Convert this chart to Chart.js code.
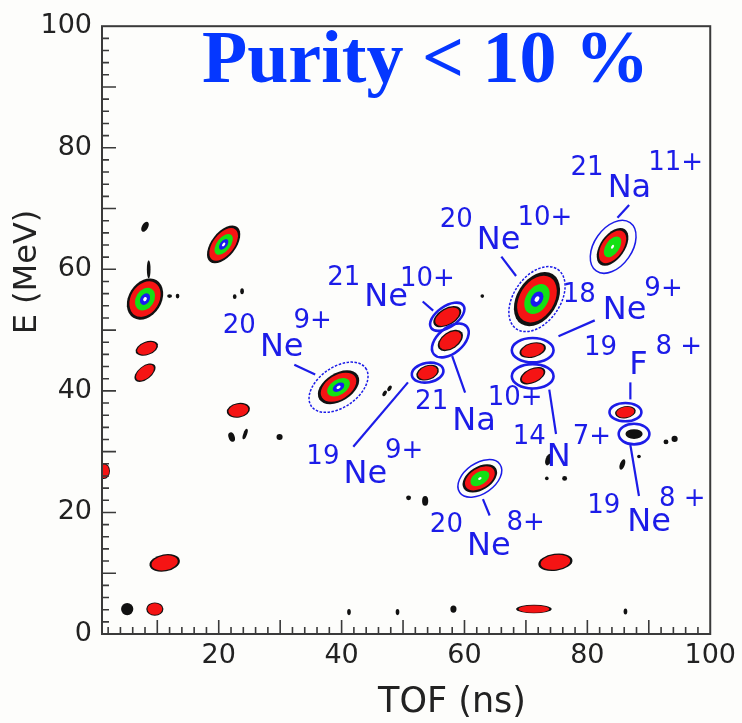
<!DOCTYPE html>
<html>
<head>
<meta charset="utf-8">
<script src="https://cdn.jsdelivr.net/npm/chart.js@4.4.1/dist/chart.umd.min.js"></script>
<style>
  html, body { margin: 0; padding: 0; background: #fdfdfb; }
  canvas { display: block; }
</style>
</head>
<body>
<canvas id="pid" width="742" height="723"></canvas>
<script>
const xTicks = [20, 40, 60, 80, 100];
const yTicks = [0, 20, 40, 60, 80, 100];

// contour blobs: centre (TOF ns, E MeV), half spread (ns, MeV), tilt (deg), contour levels reached
const blobTof = [8.0, 20.8, 8.3, 8.0, 23.2, 39.5, 57.2, 57.7, 54.0, 71.8, 84.1, 71.1, 71.1, 86.2, 87.6, 62.5, 74.8, 71.3, 11.2, 9.6, 5.1, 1.3, 53.6,
  50.9, 22.1, 24.3, 29.9, 8.0, 8.6, 73.7, 73.4, 76.3, 92.8, 94.2, 85.7, 88.4, 41.2, 49.1, 58.2, 86.2, 62.9, 12.0, 13.3, 22.6, 23.8, 47.0, 47.8];
const blobE = [55.1, 64.1, 47.0, 43.0, 36.8, 40.6, 52.2, 48.3, 43.0, 55.1, 63.7, 46.7, 42.5, 36.5, 32.9, 25.6, 11.8, 4.1, 11.7, 4.1, 4.1, 26.8, 21.9,
  22.4, 32.4, 32.9, 32.4, 67.0, 60.0, 28.7, 25.6, 25.6, 31.6, 32.1, 27.9, 29.2, 3.6, 3.6, 4.1, 3.7, 55.6, 55.6, 55.6, 55.5, 56.4, 39.6, 40.4];
const blobSpreadT = [3.6, 3.6, 1.9, 2.0, 1.9, 3.7, 2.5, 2.3, 1.9, 4.8, 3.5, 2.2, 2.2, 1.7, 1.4, 3.1, 2.8, 2.9, 2.5, 1.4, 1.0, 1.0, 0.5,
  0.4, 0.5, 0.3, 0.5, 0.5, 0.3, 0.5, 0.3, 0.4, 0.4, 0.5, 0.4, 0.3, 0.3, 0.3, 0.5, 0.3, 0.3, 0.4, 0.3, 0.3, 0.3, 0.3, 0.3];
const blobSpreadE = [2.7, 2.0, 1.1, 1.1, 1.2, 2.3, 1.4, 1.4, 1.2, 3.3, 2.0, 1.2, 1.2, 1.0, 0.8, 1.9, 1.4, 0.7, 1.4, 1.1, 1.0, 1.3, 0.8,
  0.4, 0.8, 0.9, 0.5, 0.9, 1.5, 1.0, 0.3, 0.4, 0.4, 0.5, 0.9, 0.3, 0.5, 0.5, 0.6, 0.5, 0.3, 0.3, 0.4, 0.4, 0.5, 0.5, 0.5];
const blobTilt = [-58, -52, -20, -38, -10, -32, -30, -35, -20, -58, -55, -15, -25, -10, 0, -32, -8, 0, -10, 0, 0, 0, 0,
  0, -20, 20, 0, 30, 0, 20, 0, 0, 0, 0, 20, 0, 0, 0, 0, 0, 0, 0, 0, 0, 0, 30, 30];
const blobLevels = [4, 4, 2, 2, 2, 4, 2, 2, 2, 4, 3, 2, 2, 2, 1, 3, 2, 2, 2, 2, 1, 2, 1,
  1, 1, 1, 1, 1, 1, 1, 1, 1, 1, 1, 1, 1, 1, 1, 1, 1, 1, 1, 1, 1, 1, 1, 1];

// ion identification: label anchor (TOF, E), ring round the blob, leader line
const ions = [
  { mass: '21', elem: 'Na', charge: '11+', at: [83.3, 71.9], massDy: -22, chargeDx: -3, chargeDy: -27,
    ring: [84.2, 63.7, 4.8, 3.1, -55], style: 'thin', lead: [84.9, 68.5, 86.8, 70.6] },
  { mass: '20', elem: 'Ne', charge: '10+', at: [62.0, 63.4], massDy: -22, chargeDx: -3, chargeDy: -24,
    ring: [71.8, 55.1, 5.9, 3.8, -55], style: 'dotted', lead: [66.0, 62.1, 68.4, 58.9] },
  { mass: '21', elem: 'Ne', charge: '10+', at: [43.7, 53.9], massDy: -21, chargeDx: -8, chargeDy: -20,
    ring: [57.2, 52.2, 3.2, 1.7, -35], lead: [53.2, 54.7, 54.9, 53.2] },
  { mass: '20', elem: 'Ne', charge: '9+', at: [26.7, 45.7], massDy: -23, chargeDx: -10, chargeDy: -28,
    ring: [39.5, 40.6, 5.4, 3.3, -35], style: 'dotted', lead: [32.3, 44.3, 35.7, 42.7] },
  { mass: '21', elem: 'Na', charge: '10+', at: [58.0, 33.6], massDy: -21, chargeDx: -8, chargeDy: -25,
    ring: [57.7, 48.3, 3.5, 2.1, -40], lead: [58.0, 45.7, 60.1, 39.7] },
  { mass: '19', elem: 'Ne', charge: '9+', at: [40.3, 24.8], massDy: -19, chargeDx: -2, chargeDy: -25,
    ring: [54.0, 43.0, 2.6, 1.6, -10], lead: [41.9, 30.8, 50.8, 41.4] },
  { mass: '18', elem: 'Ne', charge: '9+', at: [82.5, 51.9], massDy: -17, massGap: 7, chargeDx: -2, chargeDy: -23,
    ring: [71.1, 46.7, 3.4, 2.0, 0], lead: [75.3, 49.0, 81.2, 51.6] },
  { mass: '14', elem: 'N', charge: '7+', at: [73.4, 27.6], massDy: -22, massGap: 1, chargeDx: 2, chargeDy: -22,
    ring: [71.1, 42.4, 3.4, 2.0, 0], lead: [73.8, 40.2, 74.9, 32.9] },
  { mass: '19', elem: 'F', charge: '8 +', at: [86.8, 42.7], massDy: -19, massGap: 12, chargeDx: 8, chargeDy: -20,
    ring: [86.2, 36.5, 2.6, 1.5, 0], lead: [87.0, 41.4, 87.0, 38.6] },
  { mass: '19', elem: 'Ne', charge: '8 +', at: [86.5, 17.0], massDy: -18, massGap: 7, chargeDx: -12, chargeDy: -25,
    ring: [87.6, 32.9, 2.5, 1.7, 0], lead: [87.0, 31.1, 88.4, 22.7] },
  { mass: '20', elem: 'Ne', charge: '8+', at: [60.4, 13.0], massDy: -23, chargeDx: -4, chargeDy: -25,
    ring: [62.5, 25.6, 4.0, 2.5, -35], style: 'thin', lead: [63.0, 22.2, 64.1, 19.5] },
];

const LABEL_BLUE = '#1c1ce8';
const levelColors = ['#111111', '#f51414', '#14e014', '#1a1af0'];
const levelScale = [1, 0.86, 0.55, 0.28];

const deg = d => d * Math.PI / 180;

const contours = {
  id: 'contours',
  beforeDatasetsDraw(chart) {
    const { ctx, chartArea: a, scales: { x, y } } = chart;
    const meta = chart.getDatasetMeta(0);
    ctx.save();
    ctx.beginPath();
    ctx.rect(a.left, a.top, a.right - a.left, a.bottom - a.top);
    ctx.clip();
    meta.data.forEach((pt, i) => {
      const rx = Math.abs(x.getPixelForValue(blobTof[i] + blobSpreadT[i]) - pt.x);
      const ry = Math.abs(y.getPixelForValue(blobE[i] + blobSpreadE[i]) - pt.y);
      for (let k = 0; k < blobLevels[i]; k++) {
        ctx.beginPath();
        ctx.ellipse(pt.x, pt.y, rx * levelScale[k], ry * levelScale[k], deg(blobTilt[i]), 0, Math.PI * 2);
        ctx.fillStyle = levelColors[k];
        ctx.fill();
      }
      if (blobLevels[i] >= 3) {
        ctx.beginPath();
        ctx.ellipse(pt.x, pt.y, rx * 0.1, ry * 0.1, deg(blobTilt[i]), 0, Math.PI * 2);
        ctx.fillStyle = '#ffffff';
        ctx.fill();
      }
    });
    ctx.restore();
  },
  afterDatasetsDraw(chart) {
    const { ctx, chartArea: a, scales: { x, y } } = chart;
    ctx.save();

    // frame
    ctx.strokeStyle = '#3a3a3a';
    ctx.lineWidth = 2;
    ctx.strokeRect(a.left, a.top, a.right - a.left, a.bottom - a.top);

    // inward ticks, minor every 2, major every 10
    ctx.lineWidth = 1.6;
    ctx.beginPath();
    for (let v = 2; v < 100; v += 2) {
      const len = v % 10 === 0 ? 14 : 7;
      const px = x.getPixelForValue(v);
      ctx.moveTo(px, a.bottom);
      ctx.lineTo(px, a.bottom - len);
      const py = y.getPixelForValue(v);
      ctx.moveTo(a.left, py);
      ctx.lineTo(a.left + len, py);
    }
    ctx.stroke();

    // rings and leaders
    ctx.strokeStyle = LABEL_BLUE;
    ions.forEach(ion => {
      const [t, e, rt, re, tilt] = ion.ring;
      const cx = x.getPixelForValue(t), cy = y.getPixelForValue(e);
      const rx = Math.abs(x.getPixelForValue(t + rt) - cx);
      const ry = Math.abs(y.getPixelForValue(e + re) - cy);
      ctx.setLineDash(ion.style === 'dotted' ? [2.5, 1.5] : []);
      ctx.lineWidth = ion.style ? 1.5 : 2.6;
      ctx.beginPath();
      ctx.ellipse(cx, cy, rx, ry, deg(tilt), 0, Math.PI * 2);
      ctx.stroke();

      ctx.setLineDash([]);
      ctx.lineWidth = 2.2;
      const [t1, e1, t2, e2] = ion.lead;
      ctx.beginPath();
      ctx.moveTo(x.getPixelForValue(t1), y.getPixelForValue(e1));
      ctx.lineTo(x.getPixelForValue(t2), y.getPixelForValue(e2));
      ctx.stroke();
    });

    // labels: mass number, element, charge state
    ctx.fillStyle = LABEL_BLUE;
    ctx.textBaseline = 'alphabetic';
    ions.forEach(ion => {
      const ex = x.getPixelForValue(ion.at[0]);
      const ey = y.getPixelForValue(ion.at[1]);
      ctx.font = '32px "DejaVu Sans"';
      ctx.textAlign = 'left';
      ctx.fillText(ion.elem, ex, ey);
      const w = ctx.measureText(ion.elem).width;
      ctx.font = '26px "DejaVu Sans"';
      ctx.textAlign = 'right';
      ctx.fillText(ion.mass, ex - (ion.massGap ?? 4), ey + ion.massDy);
      ctx.textAlign = 'left';
      ctx.fillText(ion.charge, ex + w + ion.chargeDx, ey + ion.chargeDy);
    });

    // title inside the frame
    ctx.font = 'bold 74px "Liberation Serif"';
    ctx.fillStyle = '#0537ff';
    ctx.textAlign = 'left';
    ctx.fillText('Purity < 10 %', 202, 82);

    // axis titles
    ctx.fillStyle = '#222222';
    ctx.font = '35px "DejaVu Sans"';
    ctx.textAlign = 'center';
    ctx.textBaseline = 'middle';
    ctx.fillText('TOF (ns)', 452, 703);
    ctx.font = '32px "DejaVu Sans"';
    ctx.translate(28, 272);
    ctx.rotate(-Math.PI / 2);
    ctx.fillText('E (MeV)', 0, 0);
    ctx.restore();
  }
};

new Chart(document.getElementById('pid'), {
  type: 'scatter',
  data: {
    datasets: [{
      data: blobTof.map((t, i) => ({ x: t, y: blobE[i] })),
      pointRadius: 0,
      pointHoverRadius: 0,
    }],
  },
  options: {
    responsive: false,
    animation: false,
    events: [],
    layout: { padding: { top: 18, right: 23, left: 0, bottom: 0 } },
    plugins: { legend: { display: false }, tooltip: { enabled: false } },
    scales: {
      x: {
        type: 'linear',
        min: 1,
        max: 100,
        afterBuildTicks: s => { s.ticks = xTicks.map(v => ({ value: v })); },
        afterFit: s => { s.height = 89; },
        grid: { display: false, drawTicks: false },
        border: { display: false },
        ticks: { color: '#222', font: { family: 'DejaVu Sans', size: 27 }, padding: 6, maxRotation: 0, autoSkip: false },
      },
      y: {
        min: 0,
        max: 100,
        afterBuildTicks: s => { s.ticks = yTicks.map(v => ({ value: v })); },
        afterFit: s => { s.width = 102; },
        grid: { display: false, drawTicks: false },
        border: { display: false },
        ticks: { color: '#222', font: { family: 'DejaVu Sans', size: 27 }, padding: 10 },
      },
    },
  },
  plugins: [contours],
});
</script>
</body>
</html>
